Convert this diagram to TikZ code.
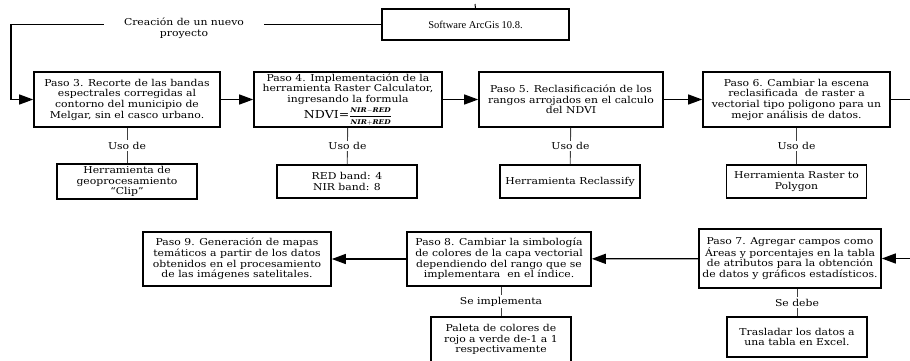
\documentclass[tikz,border=0pt]{standalone}
\usepackage{fontspec}
\setmainfont{DejaVu Serif}[FakeStretch=1.14]
\newfontfamily\swfont{Liberation Serif}
\usetikzlibrary{arrows.meta}

\begin{document}
\begin{tikzpicture}[x=1pt,y=-1pt,font=\fontsize{9.5}{10.7}\selectfont,
    paso/.style={draw,line width=1.6pt,align=center,inner sep=2pt,minimum height=55pt},
    tool/.style={draw,line width=1.6pt,align=center,inner sep=2pt,minimum width=140pt,minimum height=33pt},
    flow/.style={line width=1.3pt,-{Triangle[length=14pt,width=10pt]}},
    plain/.style={line width=1.3pt},
    usoline/.style={line width=0.9pt,black!75},
    lbl/.style={fill=white,text=black,inner sep=1.5pt}]
  \clip (0,0) rectangle (910,360);
  % fila superior
  \node[draw,line width=1.6pt,minimum width=187pt,minimum height=31pt,font=\swfont\fontsize{10.5}{12}\selectfont]
    (sw) at (475.5,24.5) {Software ArcGis 10.8.};
  \node[align=center,inner xsep=20pt,inner ysep=0pt] (crea) at (184,28) {Creación de un nuevo\\proyecto};
  \node[paso,minimum width=186pt] (p3) at (127,99.5)
    {Paso 3. Recorte de las bandas\\espectrales corregidas al\\contorno del municipio de\\Melgar, sin el casco urbano.};
  \node[paso,minimum width=188pt,inner ysep=0.5pt] (p4) at (348,99.5)
    {Paso 4. Implementación de la\\herramienta Raster Calculator,\\ingresando la formula\\[2.5pt]
     {\fontsize{11}{11}\selectfont NDVI=}$\displaystyle\frac{\mbox{\fontsize{6.5}{7}\selectfont\bfseries\itshape NIR$-$RED}}{\mbox{\fontsize{6.5}{7}\selectfont\bfseries\itshape NIR$+$RED}}$};
  \node[paso,minimum width=184pt] (p5) at (571,99.5)
    {Paso 5. Reclasificación de los\\rangos arrojados en el calculo\\del NDVI};
  \node[paso,minimum width=187pt] (p6) at (796.5,99.5)
    {Paso 6. Cambiar la escena\\reclasificada\ \ de raster a\\vectorial tipo poligono para un\\mejor análisis de datos.};
  % herramientas
  \node[tool] (h3) at (127,181.5) {Herramienta de\\geoprocesamiento\\“Clip”};
  \node[tool] (h4) at (347,181.5) {RED band: 4\\NIR band: 8};
  \node[tool] (h5) at (570,181.5) {Herramienta Reclassify};
  \node[tool] (h6) at (796.5,181.5) {Herramienta Raster to\\Polygon};
  % fila inferior
  \node[paso,minimum width=188pt,minimum height=54pt] (p9) at (237,259)
    {Paso 9. Generación de mapas\\temáticos a partir de los datos\\obtenidos en el procesamiento\\de las imágenes satelitales.};
  \node[paso,minimum width=184pt,minimum height=54pt] (p8) at (499,259)
    {Paso 8. Cambiar la simbología\\de colores de la capa vectorial\\dependiendo del rango que se\\implementara\ \ en el índice.};
  \node[paso,minimum width=182pt,minimum height=59pt] (p7) at (790,258.5)
    {Paso 7. Agregar campos como\\Áreas y porcentajes en la tabla\\de atributos para la obtención\\de datos y gráficos estadísticos.};
  \node[tool,minimum height=45pt] (pal) at (501,339.5) {Paleta de colores de\\rojo a verde de-1 a 1\\respectivamente};
  \node[tool,minimum height=40pt] (t7) at (797,337) {Trasladar los datos a\\una tabla en Excel.};

  % conectores
  \coordinate (tk) at (475,4);
  \coordinate (lc) at (11,24.5);
  \coordinate (rc) at (914,99.5);
  \draw[line width=1pt] (tk) -- (sw.north);
  \draw[plain] (sw.west) -- (crea.east |- sw.west);
  \draw[flow] (crea.west |- sw.west) -| (lc |- p3) -- (p3);
  \draw[flow] (p3) -- (p4);
  \draw[flow] (p4) -- (p5);
  \draw[flow] (p5) -- (p6);
  \draw[plain] (p6.east) -- (rc);
  \draw[flow] (rc) |- (p7.east);
  \draw[flow] (p7) -- (p8);
  \draw[flow] (p8) -- (p9);
  \foreach \a/\b in {p3/h3,p4/h4,p5/h5,p6/h6}
    \draw[usoline] (\a) -- node[lbl] {Uso de} (\b);
  \draw[usoline] (pal.north |- p8.south) -- node[lbl] {Se implementa} (pal.north);
  \draw[usoline] (t7.north |- p7.south) -- node[lbl] {Se debe} (t7.north);
\end{tikzpicture}
\end{document}
